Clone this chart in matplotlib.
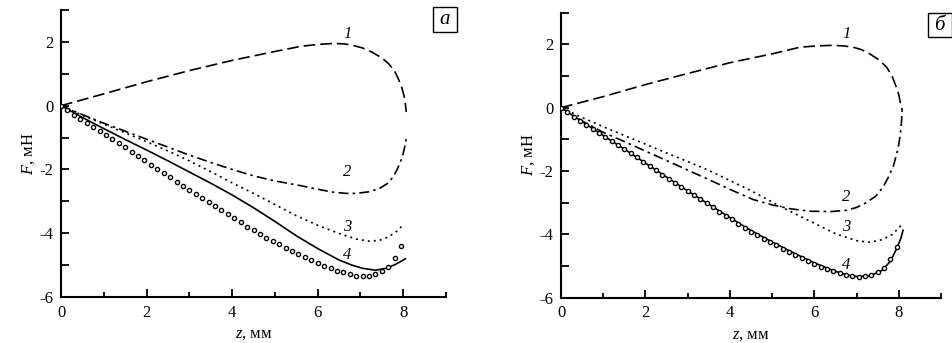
import matplotlib
matplotlib.use("Agg")
import matplotlib.pyplot as plt
from matplotlib.patches import Rectangle

plt.rcParams["font.family"] = "Liberation Serif"
plt.rcParams["mathtext.fontset"] = "custom"
plt.rcParams["mathtext.it"] = "Liberation Serif:italic"
plt.rcParams["mathtext.rm"] = "Liberation Serif"

# experimental points (same in both panels)
exp_z = [0.00, 0.15, 0.30, 0.45, 0.60, 0.75, 0.90, 1.05, 1.20, 1.35,
         1.50, 1.65, 1.80, 1.95, 2.10, 2.25, 2.40, 2.55, 2.70, 2.85,
         3.00, 3.15, 3.30, 3.45, 3.60, 3.75, 3.90, 4.05, 4.20, 4.35,
         4.50, 4.65, 4.80, 4.95, 5.10, 5.25, 5.40, 5.55, 5.70, 5.85,
         6.00, 6.15, 6.30, 6.45, 6.60, 6.75, 6.90, 7.05, 7.20, 7.35,
         7.50, 7.65, 7.80, 7.95]
exp_F = [0.00, -0.15, -0.29, -0.42, -0.54, -0.67, -0.79, -0.92, -1.05, -1.18,
         -1.31, -1.44, -1.57, -1.71, -1.85, -1.98, -2.11, -2.24, -2.38, -2.51,
         -2.63, -2.76, -2.89, -3.02, -3.15, -3.28, -3.41, -3.53, -3.66, -3.79,
         -3.91, -4.03, -4.14, -4.25, -4.35, -4.45, -4.55, -4.65, -4.75, -4.85,
         -4.94, -5.02, -5.10, -5.17, -5.23, -5.29, -5.33, -5.35, -5.33, -5.28,
         -5.18, -5.05, -4.79, -4.40]

# panel a
a1_z = [0, 1, 2, 3, 4, 5, 5.6, 6.0, 6.35, 6.6, 6.8, 7.05, 7.28, 7.5, 7.67, 7.8, 7.9, 7.97, 8.02, 8.05, 8.07]
a1_F = [0, 0.37, 0.75, 1.1, 1.42, 1.7, 1.86, 1.92, 1.95, 1.94, 1.9, 1.81, 1.67, 1.5, 1.30, 1.08, 0.8, 0.55, 0.3, 0.05, -0.2]
a2_z = [0, 0.5, 1, 1.5, 2, 2.5, 3, 3.5, 4, 4.5, 5, 5.57, 6.0, 6.35, 6.65, 6.9, 7.2, 7.44, 7.62, 7.75, 7.85, 7.93, 8.0, 8.05, 8.08]
a2_F = [0, -0.28, -0.55, -0.8, -1.05, -1.3, -1.55, -1.78, -2.0, -2.2, -2.36, -2.5, -2.62, -2.71, -2.75, -2.75, -2.7, -2.6, -2.45, -2.26, -2.02, -1.78, -1.5, -1.2, -0.94]
a3_z = [0, 0.5, 1, 1.5, 2, 2.5, 3, 3.5, 4, 4.5, 5, 5.5, 6, 6.5, 6.9, 7.2, 7.45, 7.65, 7.85, 8.02]
a3_F = [0, -0.3, -0.58, -0.85, -1.13, -1.42, -1.73, -2.07, -2.42, -2.75, -3.1, -3.45, -3.75, -4.01, -4.18, -4.25, -4.22, -4.12, -3.94, -3.70]
a4_z = [0, 0.5, 1, 1.5, 2, 2.5, 3, 3.5, 4, 4.5, 5, 5.5, 6, 6.5, 6.8, 7.05, 7.35, 7.6, 7.8, 7.95, 8.05]
a4_F = [0, -0.37, -0.72, -1.06, -1.39, -1.73, -2.08, -2.43, -2.8, -3.2, -3.63, -4.08, -4.48, -4.84, -5.0, -5.10, -5.16, -5.1, -4.99, -4.88, -4.80]

# panel b
b1_z = [0, 1, 2, 3, 4, 5, 5.66, 6.05, 6.44, 6.7, 6.92, 7.12, 7.31, 7.52, 7.71, 7.84, 7.94, 8.0, 8.04, 8.07, 8.08]
b1_F = [0, 0.35, 0.73, 1.08, 1.42, 1.7, 1.91, 1.95, 1.97, 1.95, 1.91, 1.83, 1.70, 1.52, 1.28, 1.0, 0.65, 0.4, 0.13, 0.0, -0.1]
b2_z = [0, 0.5, 1, 1.5, 2, 2.5, 3, 3.5, 4, 4.55, 5, 5.42, 5.9, 6.4, 6.76, 7.0, 7.2, 7.45, 7.63, 7.75, 7.87, 7.98, 8.03, 8.06, 8.08]
b2_F = [0, -0.42, -0.78, -1.07, -1.37, -1.67, -1.97, -2.27, -2.58, -2.9, -3.07, -3.19, -3.27, -3.28, -3.24, -3.15, -3.02, -2.8, -2.5, -2.2, -1.85, -1.3, -0.9, -0.5, -0.1]
b3_z = [0, 0.5, 1, 1.5, 2, 2.5, 3, 3.5, 4, 4.5, 5, 5.5, 6, 6.5, 7.0, 7.3, 7.6, 7.85, 8.06]
b3_F = [0, -0.31, -0.6, -0.88, -1.15, -1.43, -1.7, -1.98, -2.3, -2.62, -2.98, -3.32, -3.65, -3.98, -4.2, -4.25, -4.17, -4.0, -3.71]
b4_z = [0, 0.5, 1, 1.5, 2, 2.5, 3, 3.5, 4, 4.5, 5, 5.5, 6, 6.5, 6.8, 7.0, 7.3, 7.6, 7.8, 7.95, 8.05, 8.1]
b4_F = [0, -0.44, -0.88, -1.31, -1.75, -2.19, -2.63, -3.05, -3.47, -3.88, -4.24, -4.58, -4.90, -5.17, -5.29, -5.33, -5.32, -5.14, -4.85, -4.45, -4.12, -3.87]

labels_a = [(6.7, 2.25), (6.7, -2.07), (6.7, -3.82), (6.7, -4.67)]
labels_b = [(6.76, 2.33), (6.76, -2.82), (6.76, -3.77), (6.76, -4.97)]

fig = plt.figure(figsize=(9.52, 3.43), dpi=100)
ax_a = fig.add_axes([0.0641, 0.1341, 0.4044, 0.8367])
ax_b = fig.add_axes([0.5893, 0.1321, 0.3992, 0.8309])

lw = 1.2


def draw_panel(ax, c1, c2, c3, c4, labels):
    ax.plot(c1[0], c1[1], color="black", lw=lw, dashes=(7, 3))
    ax.plot(c2[0], c2[1], color="black", lw=lw, dashes=(6, 2.5, 1.5, 2.5))
    ax.plot(c3[0], c3[1], color="black", lw=lw, dashes=(1.2, 2.4))
    ax.plot(c4[0], c4[1], color="black", lw=lw)
    ax.plot(exp_z, exp_F, "o", ms=3.0, mew=1.0, mec="black", mfc="white", zorder=5)

    for i, (x, y) in enumerate(labels):
        ax.text(x, y, str(i + 1), fontsize=12, style="italic", ha="center", va="center")

    ax.set_xlim(0, 9)
    ax.set_ylim(-6, 3)
    ax.spines["top"].set_visible(False)
    ax.spines["right"].set_visible(False)
    ax.spines["left"].set_linewidth(1.5)
    ax.spines["bottom"].set_linewidth(1.5)

    ax.set_xticks([0, 2, 4, 6, 8])
    ax.set_xticks([1, 3, 5, 7, 9], minor=True)
    ax.set_yticks(range(-6, 4))
    ax.set_yticklabels([str(v) if v % 2 == 0 else "" for v in range(-6, 4)])
    ax.tick_params(axis="both", which="major", direction="in", length=6, width=1.3,
                   labelsize=12, pad=5.5)
    ax.tick_params(axis="x", which="minor", direction="in", length=3.5, width=1.3)

    ax.set_xlabel("$z$, мм", fontsize=12, labelpad=4)
    ax.set_ylabel("$F$, мН", fontsize=12, labelpad=2)


draw_panel(ax_a, (a1_z, a1_F), (a2_z, a2_F), (a3_z, a3_F), (a4_z, a4_F), labels_a)
draw_panel(ax_b, (b1_z, b1_F), (b2_z, b2_F), (b3_z, b3_F), (b4_z, b4_F), labels_b)

# panel letters in boxes
for x0, y0, letter in [(433, 7.5, "а"), (927.5, 13, "б")]:
    w, h = 24, 24
    fig.patches.append(Rectangle((x0 / 952, 1 - (y0 + h) / 343), w / 952, h / 343,
                                 transform=fig.transFigure, fill=False,
                                 edgecolor="black", lw=1.0))
    fig.text((x0 + w / 2) / 952, 1 - (y0 + h / 2) / 343, letter, fontsize=15,
             style="italic", ha="center", va="center")

fig.savefig("out.png", dpi=100)
